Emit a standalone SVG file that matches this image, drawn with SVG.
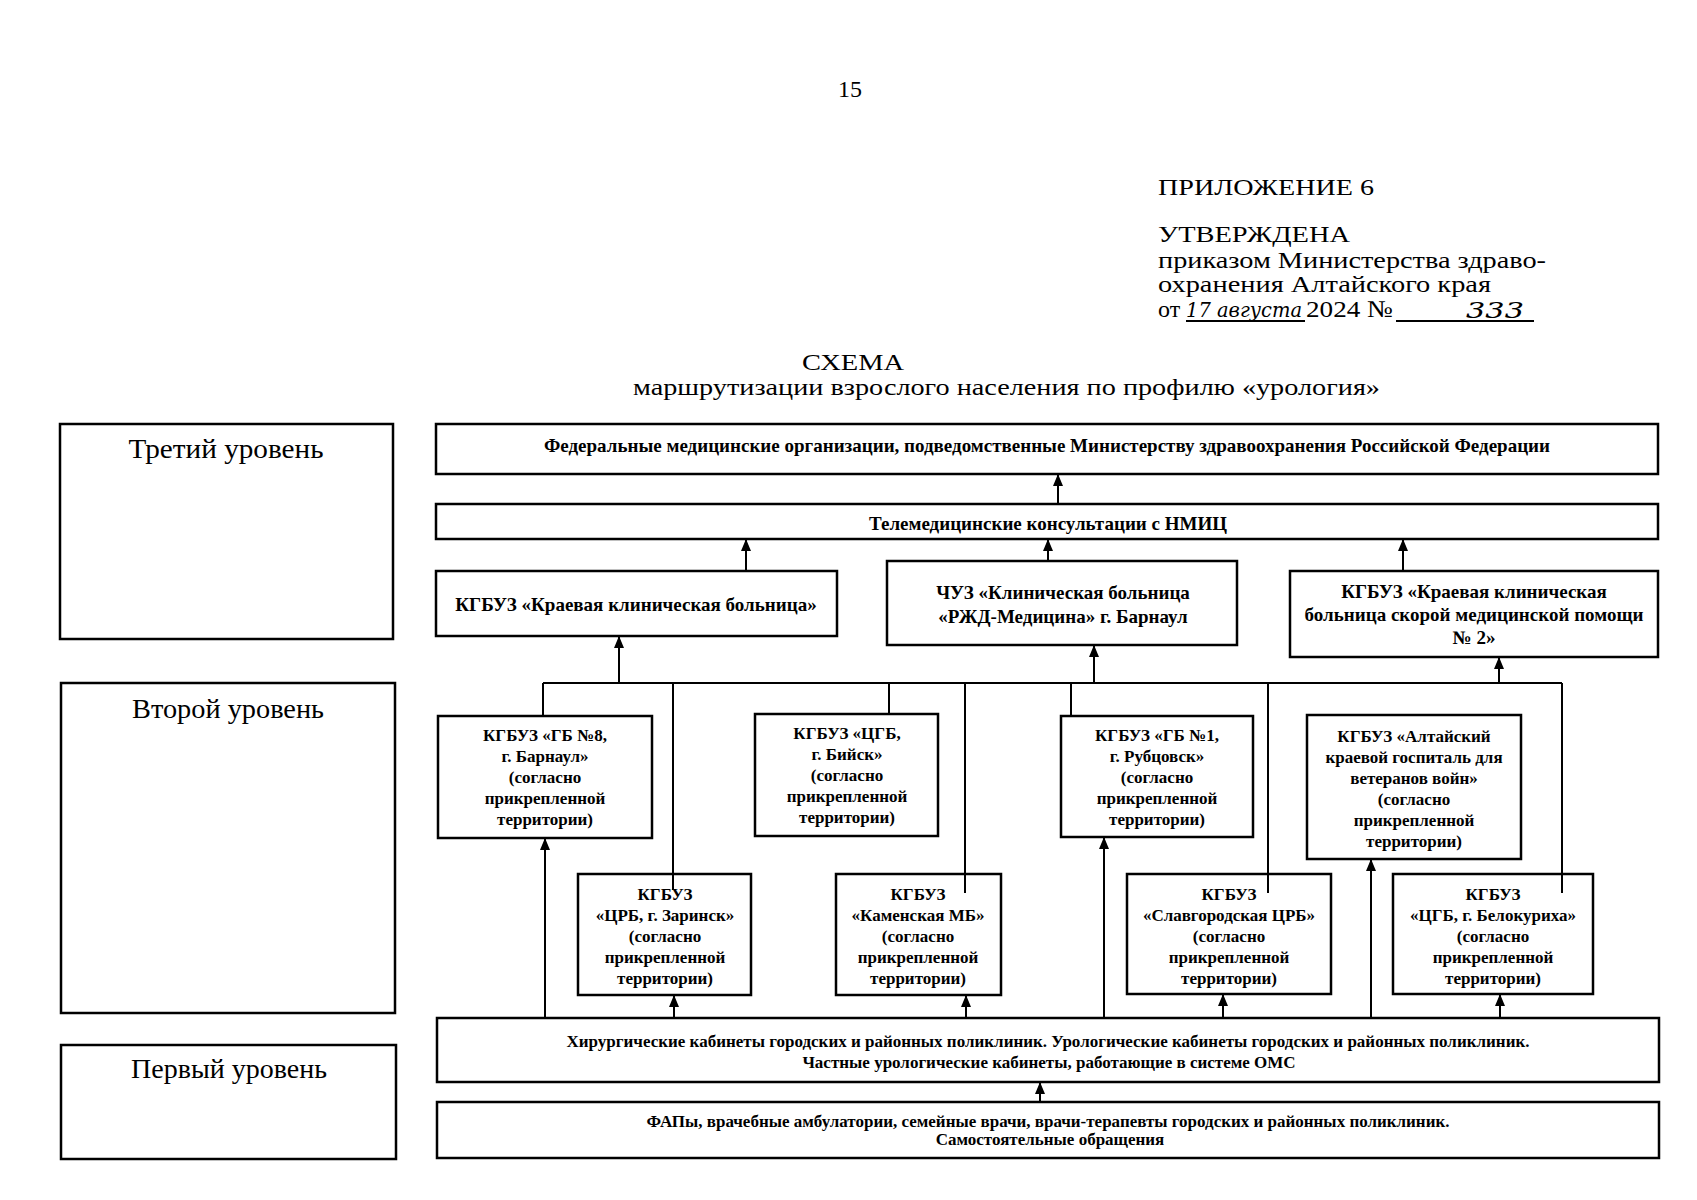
<svg xmlns="http://www.w3.org/2000/svg" width="1697" height="1200" viewBox="0 0 1697 1200">
<style>
.hdr{font-family:"Liberation Serif","DejaVu Serif",serif;font-size:24px;fill:#000}
.lvl{font-family:"Liberation Serif","DejaVu Serif",serif;font-size:27px;fill:#000;text-anchor:middle}
.box{fill:#fff;stroke:#000;stroke-width:2.5}
.t19{font-family:"Liberation Serif","DejaVu Serif",serif;font-size:19px;font-weight:bold;fill:#000;text-anchor:middle}
.t17{font-family:"Liberation Serif","DejaVu Serif",serif;font-size:17px;font-weight:bold;fill:#000;text-anchor:middle}
.hand{font-family:"DejaVu Serif","Liberation Serif",serif;font-style:italic;fill:#000}
.ln{fill:none;stroke:#000;stroke-width:2}
.ar{fill:none;stroke:#000;stroke-width:2;marker-end:url(#ah)}
</style>
<defs>
<marker id="ah" markerUnits="userSpaceOnUse" markerWidth="12" markerHeight="10" refX="12" refY="5" orient="auto">
<path d="M0,0 L12,5 L0,10 z" fill="#000"/>
</marker>
</defs>
<rect width="1697" height="1200" fill="#fff"/>

<g id="header">
<text class="hdr" x="850" y="97" text-anchor="middle">15</text>
<text class="hdr" x="1158" y="195" font-size="26" textLength="216" lengthAdjust="spacingAndGlyphs">ПРИЛОЖЕНИЕ 6</text>
<text class="hdr" x="1158" y="242" font-size="26" textLength="192" lengthAdjust="spacingAndGlyphs">УТВЕРЖДЕНА</text>
<text class="hdr" x="1158" y="268" textLength="388" lengthAdjust="spacingAndGlyphs">приказом Министерства здраво-</text>
<text class="hdr" x="1158" y="292" textLength="333" lengthAdjust="spacingAndGlyphs">охранения Алтайского края</text>
<text class="hdr" x="1158" y="317">от</text>
<text class="hand" x="1186" y="317" font-size="21" textLength="116" lengthAdjust="spacingAndGlyphs">17 августа</text>
<text class="hdr" x="1306" y="317" textLength="87" lengthAdjust="spacingAndGlyphs">2024 №</text>
<text class="hand" x="1466" y="318" font-size="22" textLength="58" lengthAdjust="spacingAndGlyphs">333</text>
<path class="ln" d="M1186,321 H1305 M1396,321 H1534" stroke-width="1.5"/>
<text class="hdr" x="853" y="370" font-size="27" text-anchor="middle" textLength="102" lengthAdjust="spacingAndGlyphs">СХЕМА</text>
<text class="hdr" x="633" y="395" font-size="26" textLength="747" lengthAdjust="spacingAndGlyphs">маршрутизации взрослого населения по профилю «урология»</text>
</g>

<g id="level3">
<rect class="box" x="60" y="424" width="333" height="215"/>
<text class="lvl" x="226" y="458" textLength="195" lengthAdjust="spacingAndGlyphs">Третий уровень</text>
</g>
<g id="level2">
<rect class="box" x="61" y="683" width="334" height="330"/>
<text class="lvl" x="228" y="718" textLength="192" lengthAdjust="spacingAndGlyphs">Второй уровень</text>
</g>
<g id="level1">
<rect class="box" x="61" y="1045" width="335" height="114"/>
<text class="lvl" x="229" y="1078" textLength="196" lengthAdjust="spacingAndGlyphs">Первый уровень</text>
</g>

<g id="connectors">
<path class="ar" d="M1058,504 V474"/>
<path class="ar" d="M746,571 V539"/>
<path class="ar" d="M1048,561 V539"/>
<path class="ar" d="M1403,571 V539"/>
<path class="ln" d="M543,683 H1562"/>
<path class="ar" d="M619,683 V636"/>
<path class="ar" d="M1094,683 V645"/>
<path class="ar" d="M1499,683 V657"/>
<path class="ln" d="M543,683 V716"/>
<path class="ln" d="M889,683 V714"/>
<path class="ln" d="M1071,683 V716"/>
<path class="ar" d="M545,1018 V838"/>
<path class="ar" d="M674,1018 V995"/>
<path class="ar" d="M966,1018 V995"/>
<path class="ar" d="M1104,1018 V837"/>
<path class="ar" d="M1223,1018 V994"/>
<path class="ar" d="M1371,1018 V859"/>
<path class="ar" d="M1500,1018 V994"/>
<path class="ar" d="M1040,1102 V1082"/>
</g>

<g id="federal">
<rect class="box" x="436" y="424" width="1222" height="50"/>
<text class="t19" x="1047" y="452" textLength="1006" lengthAdjust="spacingAndGlyphs">Федеральные медицинские организации, подведомственные Министерству здравоохранения Российской Федерации</text>
</g>
<g id="telemed">
<rect class="box" x="436" y="504" width="1222" height="35"/>
<text class="t19" x="1048" y="530">Телемедицинские консультации с НМИЦ</text>
</g>
<g id="kkb">
<rect class="box" x="436" y="571" width="401" height="65"/>
<text class="t19" x="636" y="611">КГБУЗ «Краевая клиническая больница»</text>
</g>
<g id="rzd">
<rect class="box" x="887" y="561" width="350" height="84"/>
<text class="t19" x="1063" y="599">ЧУЗ «Клиническая больница</text>
<text class="t19" x="1063" y="623">«РЖД-Медицина» г. Барнаул</text>
</g>
<g id="kkbsmp">
<rect class="box" x="1290" y="571" width="368" height="86"/>
<text class="t19" x="1474" y="598">КГБУЗ «Краевая клиническая</text>
<text class="t19" x="1474" y="621">больница скорой медицинской помощи</text>
<text class="t19" x="1474" y="644">№ 2»</text>
</g>

<g id="gb8">
<rect class="box" x="438" y="716" width="214" height="122"/>
<text class="t17" x="545" y="741">КГБУЗ «ГБ №8,</text>
<text class="t17" x="545" y="762">г. Барнаул»</text>
<text class="t17" x="545" y="783">(согласно</text>
<text class="t17" x="545" y="804">прикрепленной</text>
<text class="t17" x="545" y="825">территории)</text>
</g>
<g id="biysk">
<rect class="box" x="755" y="714" width="183" height="122"/>
<text class="t17" x="847" y="739">КГБУЗ «ЦГБ,</text>
<text class="t17" x="847" y="760">г. Бийск»</text>
<text class="t17" x="847" y="781">(согласно</text>
<text class="t17" x="847" y="802">прикрепленной</text>
<text class="t17" x="847" y="823">территории)</text>
</g>
<g id="rubtsovsk">
<rect class="box" x="1061" y="716" width="192" height="121"/>
<text class="t17" x="1157" y="741">КГБУЗ «ГБ №1,</text>
<text class="t17" x="1157" y="762">г. Рубцовск»</text>
<text class="t17" x="1157" y="783">(согласно</text>
<text class="t17" x="1157" y="804">прикрепленной</text>
<text class="t17" x="1157" y="825">территории)</text>
</g>
<g id="gospital">
<rect class="box" x="1307" y="715" width="214" height="144"/>
<text class="t17" x="1414" y="742">КГБУЗ «Алтайский</text>
<text class="t17" x="1414" y="763">краевой госпиталь для</text>
<text class="t17" x="1414" y="784">ветеранов войн»</text>
<text class="t17" x="1414" y="805">(согласно</text>
<text class="t17" x="1414" y="826">прикрепленной</text>
<text class="t17" x="1414" y="847">территории)</text>
</g>

<g id="zarinsk">
<rect class="box" x="578" y="874" width="173" height="121"/>
<text class="t17" x="665" y="900">КГБУЗ</text>
<text class="t17" x="665" y="921">«ЦРБ, г. Заринск»</text>
<text class="t17" x="665" y="942">(согласно</text>
<text class="t17" x="665" y="963">прикрепленной</text>
<text class="t17" x="665" y="984">территории)</text>
</g>
<g id="kamen">
<rect class="box" x="836" y="874" width="165" height="121"/>
<text class="t17" x="918" y="900">КГБУЗ</text>
<text class="t17" x="918" y="921">«Каменская МБ»</text>
<text class="t17" x="918" y="942">(согласно</text>
<text class="t17" x="918" y="963">прикрепленной</text>
<text class="t17" x="918" y="984">территории)</text>
</g>
<g id="slavgorod">
<rect class="box" x="1127" y="874" width="204" height="120"/>
<text class="t17" x="1229" y="900">КГБУЗ</text>
<text class="t17" x="1229" y="921">«Славгородская ЦРБ»</text>
<text class="t17" x="1229" y="942">(согласно</text>
<text class="t17" x="1229" y="963">прикрепленной</text>
<text class="t17" x="1229" y="984">территории)</text>
</g>
<g id="belokurikha">
<rect class="box" x="1393" y="874" width="200" height="120"/>
<text class="t17" x="1493" y="900">КГБУЗ</text>
<text class="t17" x="1493" y="921">«ЦГБ, г. Белокуриха»</text>
<text class="t17" x="1493" y="942">(согласно</text>
<text class="t17" x="1493" y="963">прикрепленной</text>
<text class="t17" x="1493" y="984">территории)</text>
</g>

<g id="bus-drops">
<path class="ln" d="M673,683 V890 M965,683 V893 M1268,683 V893 M1562,683 V893"/>
</g>

<g id="surgical">
<rect class="box" x="437" y="1018" width="1222" height="64"/>
<text class="t17" x="1048" y="1047" textLength="963" lengthAdjust="spacingAndGlyphs">Хирургические кабинеты городских и районных поликлиник. Урологические кабинеты  городских и районных поликлиник.</text>
<text class="t17" x="1049" y="1068">Частные урологические кабинеты, работающие в системе ОМС</text>
</g>
<g id="fap">
<rect class="box" x="437" y="1102" width="1222" height="56"/>
<text class="t17" x="1048" y="1127" textLength="803" lengthAdjust="spacingAndGlyphs">ФАПы, врачебные амбулатории, семейные врачи, врачи-терапевты городских и районных поликлиник.</text>
<text class="t17" x="1050" y="1145">Самостоятельные обращения</text>
</g>
</svg>
